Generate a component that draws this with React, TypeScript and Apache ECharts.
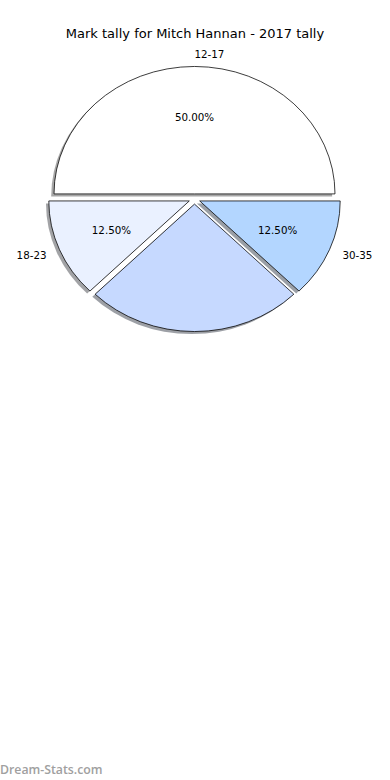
import React, { useEffect, useRef } from "react";
import * as echarts from "echarts";

// Mark tally per age bracket
const categories = ["12-17", "18-23", "24-29", "30-35"];
const tallies = [4, 1, 2, 1];
const showLabel = [true, true, false, true];
const sliceColors = ["#ffffff", "#eaf1ff", "#c6d9ff", "#b3d6ff"];

const titleText = "Mark tally for Mitch Hannan - 2017 tally";
const watermark = "Dream-Stats.com";

const FONT = "DejaVu Sans";

function shadowOf(hex: string): string {
  const n = parseInt(hex.slice(1), 16);
  const r = Math.round(((n >> 16) & 255) * 0.3);
  const g = Math.round(((n >> 8) & 255) * 0.3);
  const b = Math.round((n & 255) * 0.3);
  return `rgba(${r},${g},${b},0.5)`;
}

export default function App() {
  const ref = useRef<HTMLDivElement>(null);

  useEffect(() => {
    if (!ref.current) return;
    const chart = echarts.init(ref.current, undefined, { renderer: "svg" });

    // elliptical pie geometry
    const cx = 194.5;
    const cy = 199;
    const rx = 140.5;
    const ry = 127.5;
    const explode = 0.04;
    const total = tallies.reduce((s, v) => s + v, 0);
    const starts: number[] = [];
    let acc = 0;
    tallies.forEach((v) => {
      starts.push(acc);
      acc += v;
    });

    const renderItem = (params: any, api: any) => {
      const i = params.dataIndex;
      const value = api.value(0);
      const a1 = (starts[i] / total) * Math.PI * 2;
      const a2 = ((starts[i] + value) / total) * Math.PI * 2;
      const mid = (a1 + a2) / 2;
      const ox = cx + explode * rx * Math.cos(mid);
      const oy = cy - explode * ry * Math.sin(mid);
      const sy = ry / rx;
      const shape = { cx: 0, cy: 0, r: rx, r0: 0, startAngle: -a2, endAngle: -a1, clockwise: true };
      const color = sliceColors[i];
      const children: any[] = [
        {
          type: "sector",
          x: ox - 0.02 * rx,
          y: oy + 0.02 * ry,
          scaleY: sy,
          shape,
          style: { fill: shadowOf(color), stroke: "none" },
        },
        {
          type: "sector",
          x: ox,
          y: oy,
          scaleY: sy,
          shape,
          style: { fill: color, stroke: "#000", lineWidth: 0.8, strokeNoScale: true },
        },
      ];
      if (showLabel[i]) {
        const c = Math.cos(mid);
        const s = Math.sin(mid);
        children.push({
          type: "text",
          x: ox + 1.1 * rx * c,
          y: oy - 1.1 * ry * s,
          style: {
            text: categories[i],
            fill: "#000",
            fontFamily: FONT,
            fontSize: 10.3,
            align: c > 1e-9 ? "left" : c < -1e-9 ? "right" : "left",
            verticalAlign: "middle",
          },
        });
        children.push({
          type: "text",
          x: ox + 0.6 * rx * c,
          y: oy - 0.6 * ry * s,
          style: {
            text: ((value / total) * 100).toFixed(2) + "%",
            fill: "#000",
            fontFamily: FONT,
            fontSize: 10.3,
            align: "center",
            verticalAlign: "middle",
          },
        });
      }
      return { type: "group", children };
    };

    chart.setOption({
      animation: false,
      backgroundColor: "#ffffff",
      title: {
        text: titleText,
        left: "center",
        top: 22,
        textStyle: { fontFamily: FONT, fontSize: 13, fontWeight: "normal", color: "#000" },
      },
      series: [
        {
          type: "custom",
          coordinateSystem: "none",
          renderItem,
          data: tallies.map((v, i) => ({ name: categories[i], value: [v] })),
        },
      ],
      graphic: [
        {
          type: "text",
          left: 0,
          top: 763,
          style: {
            text: watermark,
            fill: "#a0a0a0",
            fontFamily: "Open Sans",
            fontWeight: 600,
            fontSize: 12.3,
          },
        },
      ],
    });

    return () => chart.dispose();
  }, []);

  return (
    <div
      ref={ref}
      style={{ position: "fixed", left: 0, top: 0, width: 390, height: 780 }}
    />
  );
}
